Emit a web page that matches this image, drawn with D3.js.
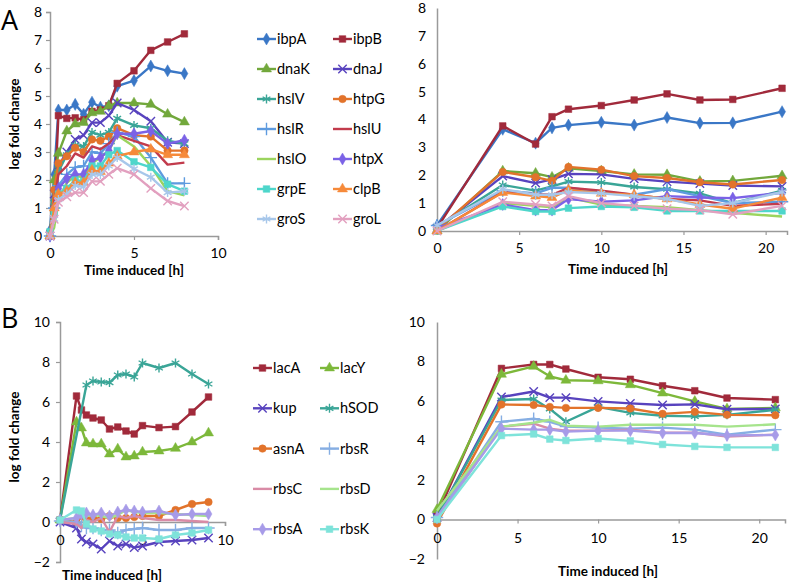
<!DOCTYPE html>
<html><head><meta charset="utf-8">
<script src="https://cdn.jsdelivr.net/npm/d3@7"></script>
<style>body{margin:0;background:#fff}svg{display:block;font-family:Lato,"Open Sans",sans-serif}</style>
</head><body><svg id="c" width="800" height="583"></svg>
<script>
// ---------- data ----------
const genesA = ["ibpA","ibpB","dnaK","dnaJ","hslV","htpG","hslR","hslU","hslO","htpX","grpE","clpB","groS","groL"];
const colorsA = ["#3A77C6","#A12A3B","#72A83C","#5843BE","#3AA597","#E2732B","#5E9BDF","#C23B4C","#9BD45E","#7B62E6","#4ED6CB","#F68A3A","#A7C7EA","#E2A0BF"];
const markersA = ["diamond","square","triangle","times","asterisk","circle","plus","none","none","diamond","square","triangle","asterisk","times"];
const timesAEarly = [0,0.25,0.5,1,1.5,2,2.5,3,3.5,4,5,6,7,8];
const valuesAEarly = [
 [0.2,2.2,4.5,4.5,4.7,4.35,4.78,4.6,4.65,5.35,5.55,6.07,5.9,5.8],
 [0.1,1.0,4.3,4.2,4.22,4.15,4.45,4.5,4.65,5.45,5.9,6.63,6.93,7.22],
 [0,2.0,2.95,3.75,4.0,4.05,4.4,4.45,4.65,4.75,4.75,4.7,4.35,4.07],
 [0,1.5,2.5,3.0,3.45,3.6,4.05,4.05,4.3,4.75,4.5,4.1,3.35,3.3],
 [0,1.2,2.3,2.9,3.25,3.2,3.7,3.6,3.7,4.2,3.95,3.85,3.4,3.3],
 [0,1.65,2.6,2.85,3.15,3.0,3.45,3.4,3.55,3.85,3.6,3.55,3.05,3.05],
 [0,1.0,1.8,2.2,2.45,2.5,3.0,2.95,3.3,3.7,3.55,2.8,1.88,1.88],
 [0,1.2,2.2,2.5,2.95,2.8,3.2,3.1,3.3,3.6,3.4,3.2,2.55,2.62],
 [0,0.3,1.3,1.9,2.15,2.1,2.6,2.8,3.05,3.6,3.2,2.5,1.6,1.45],
 [0,1.0,1.7,2.05,2.2,2.2,2.7,2.8,3.05,3.65,3.65,3.75,3.3,3.42],
 [0.15,0.8,1.5,1.7,2.0,1.95,2.5,2.5,2.9,3.05,2.65,2.45,1.85,1.6],
 [0,1.0,1.5,1.6,1.9,1.9,2.35,2.3,2.6,2.85,3.0,3.1,2.9,2.9],
 [0,0.6,1.3,1.5,1.8,1.75,2.2,2.2,2.5,2.8,2.4,2.1,1.55,1.6],
 [0,0.6,1.2,1.4,1.55,1.55,1.95,1.95,2.2,2.42,2.2,1.7,1.25,1.07]
];
const timesALate = [0,4,6,7,8,10,12,14,16,18,21];
const valuesALate = [
 [0.2,3.65,3.15,3.7,3.8,3.9,3.8,4.07,3.87,3.88,4.28],
 [0.1,3.77,3.12,4.1,4.37,4.5,4.7,4.92,4.7,4.72,5.12],
 [0.0,2.15,2.07,1.93,2.25,2.15,2.03,2.02,1.78,1.8,1.98],
 [0.1,1.97,1.72,1.85,2.05,2.03,1.87,1.77,1.7,1.63,1.6],
 [0.15,1.65,1.45,1.6,1.77,1.74,1.58,1.5,1.35,1.0,1.45],
 [0.05,2.12,1.93,1.8,2.3,2.2,1.97,1.9,1.75,1.67,1.83],
 [0.2,1.45,1.35,1.55,1.55,1.4,1.3,1.5,1.25,1.0,1.05],
 [0.0,1.4,1.32,1.3,1.55,1.45,1.3,1.15,1.1,0.9,0.98],
 [0.0,1.0,0.9,0.85,1.2,0.95,0.9,0.85,0.75,0.65,0.52],
 [0.1,0.95,0.75,0.75,1.15,1.05,1.1,1.25,1.2,1.18,1.37],
 [0.0,0.88,0.7,0.7,0.82,0.88,0.85,0.72,0.72,0.72,0.72],
 [0.0,1.38,1.25,1.2,1.47,1.35,1.3,1.15,0.95,0.8,1.2],
 [0.2,1.5,1.3,1.3,1.4,1.35,1.25,1.15,0.9,1.0,1.4],
 [0.0,1.05,0.95,0.9,1.25,1.0,0.9,0.8,0.75,0.6,0.9]
];

const genesB = ["lacA","lacY","kup","hSOD","asnA","rbsR","rbsC","rbsD","rbsA","rbsK"];
const colorsB = ["#A12A3B","#7DB83A","#5843BE","#3AA597","#E2732B","#86AEE3","#D98BA6","#A6E48C","#A79BE8","#7EE3DA"];
const markersB = ["square","triangle","times","asterisk","circle","plus","none","none","diamond","square"];
const timesBEarly = [0,1,1.3,1.6,2,2.5,3,3.5,4,4.5,5,6,7,8,9];
const valuesBEarly = [
 [0.1,6.3,5.6,5.35,5.2,5.1,4.65,4.75,4.55,4.4,4.82,4.72,4.77,5.5,6.25],
 [0.1,5.0,4.7,3.95,3.9,3.9,3.4,3.65,3.25,3.3,3.5,3.55,3.68,4.0,4.45],
 [0,-0.3,-0.85,-1.0,-1.1,-1.35,-0.95,-1.2,-1.1,-1.28,-1.2,-1.0,-0.95,-0.9,-0.8],
 [0.1,null,null,6.85,7.05,7.0,6.97,7.35,7.4,7.25,7.95,7.7,7.95,7.4,6.9],
 [0.1,0.0,0.3,0.1,0.2,0.15,0.3,0.2,0.2,0.25,0.3,0.3,0.6,0.9,1.0],
 [0.05,0.0,-0.2,-0.3,-0.3,-0.4,-0.4,-0.55,-0.4,-0.35,-0.3,-0.4,-0.4,-0.3,-0.3],
 [0.0,-0.1,-0.3,0.1,0.0,0.2,-0.5,0.3,0.2,0.3,0.2,0.1,0.1,0.05,0.0],
 [0.1,0.2,0.3,0.3,0.35,0.3,0.2,0.35,0.6,0.5,0.45,0.45,0.4,0.35,0.3],
 [0.1,0.2,0.4,0.45,0.35,0.45,0.3,0.5,0.6,0.55,0.5,0.55,0.35,0.4,0.4],
 [0.1,0.6,0.55,-0.1,-0.35,-0.45,-0.6,-0.65,-0.75,-0.8,-0.8,-0.85,-0.65,-0.55,-0.4]
];
const timesBLate = [0,4,6,7,8,10,12,14,16,18,21];
const valuesBLate = [
 [0.2,7.65,7.85,7.85,7.62,7.2,7.1,6.77,6.52,6.15,6.07],
 [0.5,7.35,7.75,7.25,7.05,7.02,6.82,6.4,5.98,5.6,5.65],
 [0.1,6.2,6.48,6.17,6.17,5.98,5.88,5.8,5.83,5.58,5.6],
 [0.1,6.05,6.1,5.6,4.95,5.7,5.4,5.25,5.22,5.3,5.55],
 [-0.2,5.82,5.8,5.7,5.65,5.65,5.62,5.35,5.45,5.3,5.28],
 [0.1,4.95,5.1,4.95,4.7,4.65,4.6,4.65,4.55,4.3,4.55],
 [0.0,4.7,4.85,4.6,4.5,4.5,4.55,4.4,4.4,4.2,4.3],
 [0.45,4.7,4.9,5.05,4.75,4.7,4.8,4.8,4.8,4.7,4.82],
 [0.1,4.6,4.55,4.55,4.45,4.5,4.5,4.38,4.38,4.25,4.28],
 [0.0,4.25,4.33,4.07,4.0,4.1,3.98,3.8,3.7,3.65,3.65]
];

const ticksA_y = [0,1,2,3,4,5,6,7,8];
const ticksB_y = [-2,0,2,4,6,8,10];
const ticksEarly_x = [0,5,10];
const ticksLate_x = [0,5,10,15,20];

// ---------- drawing ----------
const svg = d3.select("#c");
const axisColor = "#9a9a9a";
const symMap = {diamond:d3.symbolDiamond, square:d3.symbolSquare, triangle:d3.symbolTriangle, circle:d3.symbolCircle,
  times:d3.symbolTimes, asterisk:d3.symbolAsterisk, plus:d3.symbolPlus};
const strokeSyms = new Set(["times","asterisk","plus"]);

function drawMarker(g, type, color, x, y){
  if(type==="none") return;
  const sizes = {diamond:42,square:44,triangle:44,circle:44,times:48,asterisk:56,plus:52};
  const p = d3.symbol().type(symMap[type]).size(sizes[type])();
  const s = g.append("path").attr("d",p).attr("transform",`translate(${x},${y})`);
  if(strokeSyms.has(type)) s.attr("fill","none").attr("stroke",color).attr("stroke-width",1.4);
  else s.attr("fill",color).attr("stroke",color).attr("stroke-width",0.5);
}

function panel(cfg){
  const g = svg.append("g");
  const x = d3.scaleLinear().domain(cfg.xDomain).range(cfg.xRange);
  const y = d3.scaleLinear().domain(cfg.yDomain).range(cfg.yRange);
  const ya = g.append("g").attr("transform",`translate(${cfg.xRange[0]},0)`)
    .call(d3.axisLeft(y).tickValues(cfg.yTicks).tickSize(cfg.yTickSize).tickPadding(cfg.yPad).tickFormat(d3.format("d")));
  const xa = g.append("g").attr("transform",`translate(0,${y(0)})`)
    .call(d3.axisBottom(x).tickValues(cfg.xTicks).tickSize(4).tickPadding(cfg.xPad).tickFormat(d3.format("d")));
  [ya,xa].forEach(a=>{
    a.select(".domain").attr("stroke",axisColor).attr("stroke-width",1.5);
    a.selectAll(".tick line").attr("stroke",axisColor).attr("stroke-width",1.2);
    a.selectAll(".tick text").attr("fill","#000").style("font-size","14px").style("font-family","Lato,'Open Sans',sans-serif");
  });
  const line = d3.line().x(d=>x(d[0])).y(d=>y(d[1]));
  cfg.values.forEach((vals,i)=>{
    const pts = cfg.times.map((t,j)=>[t,vals[j]]).filter(d=>d[1]!==null);
    g.append("path").datum(pts).attr("d",line).attr("fill","none")
      .attr("stroke",cfg.colors[i]).attr("stroke-width",2.4).attr("stroke-linejoin","round");
    pts.forEach(d=>drawMarker(g,cfg.markers[i],cfg.colors[i],x(d[0]),y(d[1])));
  });
  g.append("text").attr("x",cfg.xTitle[0]).attr("y",cfg.xTitle[1]).attr("text-anchor","middle")
    .style("font-size","13.5px").style("font-weight","bold").text("Time induced [h]");
  if(cfg.yTitle){
    g.append("text").attr("transform",`translate(${cfg.yTitle[0]},${cfg.yTitle[1]}) rotate(-90)`)
      .attr("text-anchor","middle").style("font-size","13.5px").style("font-weight","bold").text("log fold change");
  }
}

function legend(genes,colors,markers,cols,rowY,rowStep){
  const g = svg.append("g");
  genes.forEach((name,i)=>{
    const c = cols[i%2], yy = rowY + rowStep*Math.floor(i/2);
    g.append("line").attr("x1",c).attr("x2",c+19).attr("y1",yy).attr("y2",yy)
      .attr("stroke",colors[i]).attr("stroke-width",2.4);
    drawMarker(g,markers[i],colors[i],c+9.5,yy);
    g.append("text").attr("x",c+20).attr("y",yy+5).style("font-size","14.5px").text(name);
  });
}

// Panel A
panel({xDomain:[0,10],xRange:[50,218],yDomain:[0,8],yRange:[236,12],yTicks:ticksA_y,xTicks:ticksEarly_x,
  yTickSize:4,yPad:4,xPad:8,times:timesAEarly,values:valuesAEarly,colors:colorsA,markers:markersA,
  xTitle:[134,275],yTitle:[19,124]});
panel({xDomain:[0,21.3],xRange:[437,787],yDomain:[0,8],yRange:[231,8],yTicks:ticksA_y,xTicks:ticksLate_x,
  yTickSize:0,yPad:11,xPad:8,times:timesALate,values:valuesALate,colors:colorsA,markers:markersA,
  xTitle:[618,274]});
legend(genesA,colorsA,markersA,[257,333],39,30);

// Panel B
panel({xDomain:[0,10],xRange:[60,225],yDomain:[-2,10],yRange:[562,322],yTicks:ticksB_y,xTicks:ticksEarly_x,
  yTickSize:4,yPad:6,xPad:9,times:timesBEarly,values:valuesBEarly,colors:colorsB,markers:markersB,
  xTitle:[112,580],yTitle:[19,437]});
panel({xDomain:[0,21.6],xRange:[437,785],yDomain:[-2,10],yRange:[559,322],yTicks:ticksB_y,xTicks:ticksLate_x,
  yTickSize:0,yPad:12,xPad:10,times:timesBLate,values:valuesBLate,colors:colorsB,markers:markersB,
  xTitle:[608,576]});
legend(genesB,colorsB,markersB,[253,320],368,40.3);

svg.append("text").attr("x",1).attr("y",30).style("font-size","27px").style("font-family","'Open Sans',sans-serif").text("A");
svg.append("text").attr("x",1).attr("y",328).style("font-size","27px").style("font-family","'Open Sans',sans-serif").text("B");
</script></body></html>
